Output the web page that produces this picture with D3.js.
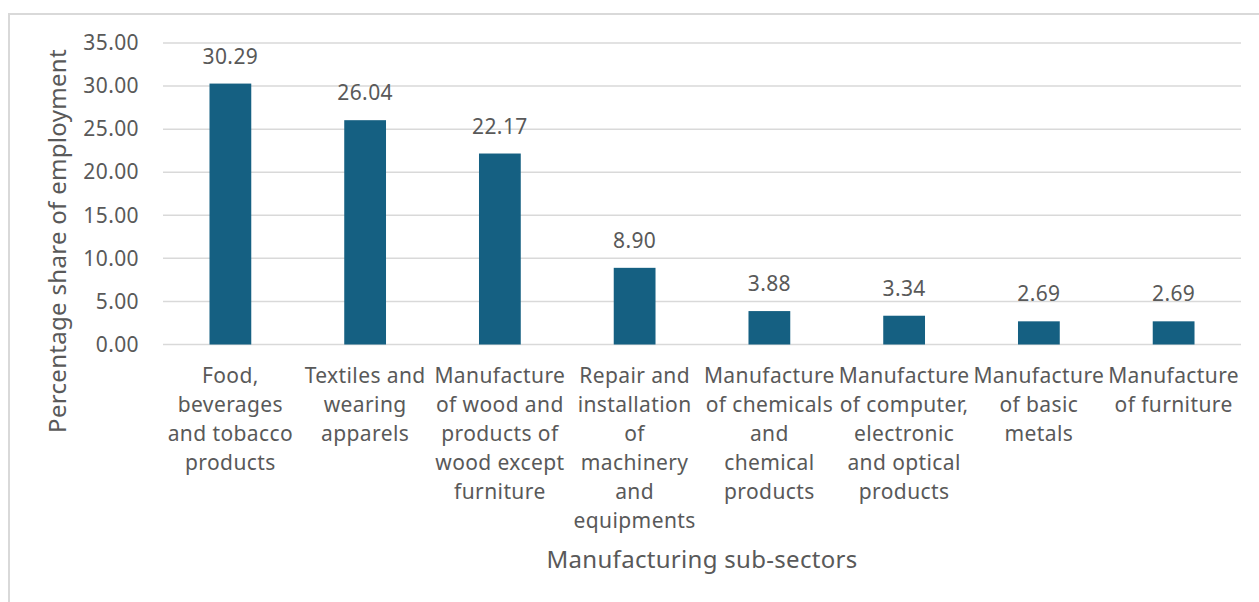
<!DOCTYPE html>
<html>
<head>
<meta charset="utf-8">
<script src="https://cdn.jsdelivr.net/npm/d3@7"></script>
<style>
  html, body { margin: 0; padding: 0; background: #ffffff; }
  svg { display: block; }
  text { font-family: "Noto Sans", "Open Sans", sans-serif; fill: #595959; }
</style>
</head>
<body>
<svg id="chart" width="1259" height="602"></svg>
<script>
// Share of manufacturing employment by sub-sector (%)
const categories = [
  "Food,\nbeverages\nand tobacco\nproducts",
  "Textiles and\nwearing\napparels",
  "Manufacture\nof wood and\nproducts of\nwood except\nfurniture",
  "Repair and\ninstallation\nof\nmachinery\nand\nequipments",
  "Manufacture\nof chemicals\nand\nchemical\nproducts",
  "Manufacture\nof computer,\nelectronic\nand optical\nproducts",
  "Manufacture\nof basic\nmetals",
  "Manufacture\nof furniture"
];
const shares = [30.29, 26.04, 22.17, 8.90, 3.88, 3.34, 2.69, 2.69];
const yTicks = [0, 5, 10, 15, 20, 25, 30, 35];

const xTitle = "Manufacturing sub-sectors";
const yTitle = "Percentage share of employment";

const svg = d3.select("#chart");
const W = 1259, H = 602;
const plot = { left: 163, right: 1241, top: 43, bottom: 344.5 };

// chart frame
svg.append("rect")
  .attr("x", 9).attr("y", 14)
  .attr("width", W + 20).attr("height", H + 20)
  .attr("fill", "#ffffff")
  .attr("stroke", "#d9d9d9").attr("stroke-width", 2);

const x = d3.scaleBand()
  .domain(categories)
  .range([plot.left, plot.right])
  .paddingInner(0.69).paddingOuter(0.345);

const y = d3.scaleLinear()
  .domain([0, 35])
  .range([plot.bottom, plot.top]);

// horizontal gridlines
svg.append("g")
  .selectAll("line")
  .data(yTicks)
  .join("line")
  .attr("x1", plot.left).attr("x2", plot.right)
  .attr("y1", d => y(d)).attr("y2", d => y(d))
  .attr("stroke", "#d9d9d9").attr("stroke-width", 1.5);

// y axis labels
const yAxis = d3.axisLeft(y)
  .tickValues(yTicks)
  .tickFormat(d3.format(".2f"))
  .tickSize(0).tickPadding(0);
const yg = svg.append("g")
  .attr("transform", `translate(${139},0)`)
  .call(yAxis);
yg.select(".domain").remove();
yg.selectAll("text")
  .attr("font-size", 21)
  .attr("letter-spacing", 0.4)
  .attr("fill", "#595959")
  .attr("font-family", "Noto Sans, sans-serif");

// bars
svg.append("g")
  .selectAll("rect")
  .data(shares)
  .join("rect")
  .attr("x", (d, i) => x(categories[i]))
  .attr("y", d => y(d))
  .attr("width", x.bandwidth())
  .attr("height", d => y(0) - y(d))
  .attr("fill", "#156082");

// value labels
svg.append("g")
  .selectAll("text")
  .data(shares)
  .join("text")
  .attr("x", (d, i) => x(categories[i]) + x.bandwidth() / 2)
  .attr("y", d => y(d) - 20)
  .attr("text-anchor", "middle")
  .attr("font-size", 21)
  .attr("letter-spacing", 0.4)
  .text(d => d.toFixed(2));

// category labels (multi-line)
const xg = svg.append("g");
categories.forEach((c, i) => {
  const cx = x(c) + x.bandwidth() / 2;
  const t = xg.append("text")
    .attr("x", cx)
    .attr("y", 383)
    .attr("text-anchor", "middle")
    .attr("font-size", 21)
    .attr("letter-spacing", 0.4);
  c.split("\n").forEach((line, j) => {
    t.append("tspan")
      .attr("x", cx)
      .attr("dy", j === 0 ? 0 : 29)
      .text(line);
  });
});

// axis titles
svg.append("text")
  .attr("x", (plot.left + plot.right) / 2)
  .attr("y", 568)
  .attr("text-anchor", "middle")
  .attr("font-size", 24)
  .attr("letter-spacing", 0.3)
  .text(xTitle);

svg.append("text")
  .attr("transform", `translate(66,241) rotate(-90)`)
  .attr("text-anchor", "middle")
  .attr("font-size", 24)
  .attr("letter-spacing", 0.3)
  .text(yTitle);
</script>
</body>
</html>
